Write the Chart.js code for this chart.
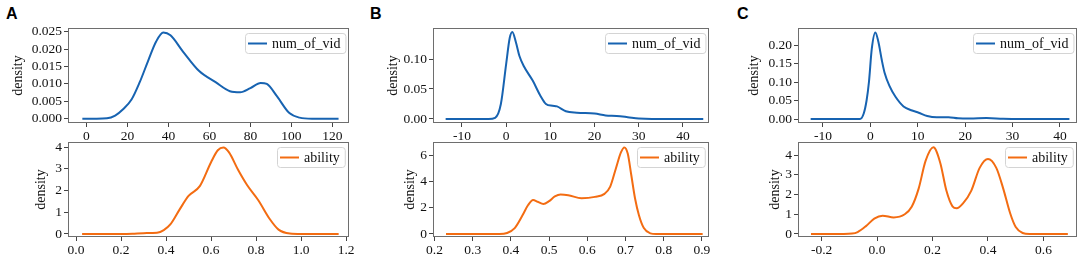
<!DOCTYPE html>
<html lang="en">
<head>
<meta charset="UTF-8">
<title>Density of num_of_vid and ability</title>
<script src="https://cdn.jsdelivr.net/npm/chart.js@4.4.0/dist/chart.umd.min.js"></script>
<style>
    body {
        margin: 0;
        background: #fff;
        width: 1084px;
        height: 257px;
        position: relative;
        overflow: hidden;
    }
    .wrap { position: absolute; }
    .tag {
        position: absolute;
        top: 6px;
        font: bold 16px "Liberation Sans", Arial, sans-serif;
        line-height: 16px;
        color: #000;
    }
</style>
</head>
<body>
<div class="tag" style="left:6px">A</div>
<div class="tag" style="left:370px">B</div>
<div class="tag" style="left:737px">C</div>

<div class="wrap" id="wAtop"><canvas id="aTop"></canvas></div>
<div class="wrap" id="wAbot"><canvas id="aBot"></canvas></div>
<div class="wrap" id="wBtop"><canvas id="bTop"></canvas></div>
<div class="wrap" id="wBbot"><canvas id="bBot"></canvas></div>
<div class="wrap" id="wCtop"><canvas id="cTop"></canvas></div>
<div class="wrap" id="wCbot"><canvas id="cBot"></canvas></div>

<script>
// ---- panel A ----
const aVidX = [-2, 5, 10, 14, 18, 22, 26, 30, 34, 37.5, 41, 47, 55, 63, 70, 75, 80, 85, 88, 93, 99, 104, 110, 123];
const aVidY = [0, 0, 0.0001, 0.0009, 0.0028, 0.0055, 0.0105, 0.0165, 0.0222, 0.0248, 0.024, 0.0194, 0.0137, 0.0105, 0.0079, 0.0076, 0.0088, 0.0103, 0.0100, 0.0064, 0.0016, 0.0003, 0, 0];
const aAbX = [0.027, 0.2, 0.25, 0.3, 0.36, 0.39, 0.42, 0.46, 0.5, 0.55, 0.6, 0.63, 0.655, 0.68, 0.72, 0.76, 0.81, 0.86, 0.9, 0.95, 1.0, 1.167];
const aAbY = [0, 0, 0.01, 0.04, 0.06, 0.18, 0.45, 1.12, 1.75, 2.2, 3.3, 3.85, 3.98, 3.75, 2.95, 2.25, 1.55, 0.7, 0.2, 0.02, 0, 0];

// ---- panel B ----
const bVidX = [-13.7, -4, -2.5, -1.2, 0, 0.8, 1.4, 2.2, 3, 4, 6, 7.8, 9, 10.5, 11.5, 13.5, 16, 20, 22.5, 25, 27.5, 30, 33, 44.6];
const bVidY = [0, 0, 0.002, 0.025, 0.092, 0.135, 0.145, 0.128, 0.105, 0.088, 0.064, 0.038, 0.025, 0.022, 0.021, 0.013, 0.0105, 0.009, 0.006, 0.005, 0.003, 0.0008, 0, 0];
const bAbX = [0.23, 0.37, 0.39, 0.41, 0.43, 0.445, 0.458, 0.47, 0.485, 0.5, 0.515, 0.53, 0.55, 0.585, 0.62, 0.645, 0.66, 0.675, 0.688, 0.697, 0.706, 0.715, 0.725, 0.735, 0.748, 0.765, 0.78, 0.902];
const bAbY = [0, 0, 0.08, 0.45, 1.4, 2.2, 2.58, 2.45, 2.28, 2.5, 2.85, 3.0, 2.95, 2.72, 2.82, 3.05, 3.6, 5.0, 6.2, 6.58, 6.1, 4.5, 2.7, 1.45, 0.45, 0.05, 0, 0];

// ---- panel C ----
const cVidX = [-12.6, -2.2, -1.4, -0.8, -0.3, 0.3, 1.05, 1.7, 2.4, 3, 4, 5.3, 7, 8.8, 10.2, 12, 14, 16.5, 18.5, 21, 24.5, 28, 32, 42];
const cVidY = [0, 0, 0.015, 0.05, 0.1, 0.19, 0.234, 0.208, 0.16, 0.125, 0.09, 0.06, 0.034, 0.023, 0.017, 0.008, 0.0045, 0.005, 0.002, 0.0015, 0.0025, 0.001, 0.0003, 0];
const cAbX = [-0.238, -0.12, -0.09, -0.07, -0.04, -0.01, 0.02, 0.06, 0.1, 0.125, 0.15, 0.175, 0.203, 0.228, 0.25, 0.272, 0.287, 0.31, 0.34, 0.37, 0.4, 0.43, 0.455, 0.48, 0.5, 0.525, 0.55, 0.688];
const cAbY = [0, 0, 0.02, 0.1, 0.4, 0.78, 0.93, 0.84, 1.0, 1.38, 2.3, 3.7, 4.39, 3.6, 2.2, 1.4, 1.3, 1.55, 2.2, 3.35, 3.8, 3.35, 2.3, 1.05, 0.35, 0.05, 0, 0];

// tick values
const aVidTicksX = [0, 20, 40, 60, 80, 100, 120];
const aVidTicksY = [0, 0.005, 0.01, 0.015, 0.02, 0.025];
const aAbTicksX = [0, 0.2, 0.4, 0.6, 0.8, 1.0, 1.2];
const aAbTicksY = [0, 1, 2, 3, 4];
const bVidTicksX = [-10, 0, 10, 20, 30, 40];
const bVidTicksY = [0, 0.05, 0.1];
const bAbTicksX = [0.2, 0.3, 0.4, 0.5, 0.6, 0.7, 0.8, 0.9];
const bAbTicksY = [0, 2, 4, 6];
const cVidTicksX = [-10, 0, 10, 20, 30, 40];
const cVidTicksY = [0, 0.05, 0.1, 0.15, 0.2];
const cAbTicksX = [-0.2, 0, 0.2, 0.4, 0.6];
const cAbTicksY = [0, 1, 2, 3, 4];

const BLUE = '#1763b1';
const ORANGE = '#f36c12';
const serif = '"Liberation Serif", "Times New Roman", serif';

const framePlugin = {
    id: 'frame',
    afterDatasetsDraw(chart) {
        const { ctx, chartArea: a } = chart;
        ctx.save();
        ctx.strokeStyle = '#6e6e6e';
        ctx.lineWidth = 1;
        ctx.strokeRect(Math.round(a.left) + 0.5, Math.round(a.top) + 0.5,
            Math.round(a.right - a.left) - 1, Math.round(a.bottom - a.top) - 1);
        ctx.restore();
    }
};

// matplotlib-style legend in the upper right corner
const legendPlugin = {
    id: 'insideLegend',
    afterDraw(chart) {
        const { ctx, chartArea: a } = chart;
        const ds = chart.data.datasets[0];
        ctx.save();
        ctx.font = '14px ' + serif;
        const tw = ctx.measureText(ds.label).width;
        const w = 4 + 19 + 5 + tw + 4, h = 20;
        const x = Math.round(a.right - 4 - w), y = Math.round(a.top + 5);
        ctx.beginPath();
        ctx.roundRect(x + 0.5, y + 0.5, w, h, 3);
        ctx.fillStyle = 'rgba(255,255,255,0.85)';
        ctx.fill();
        ctx.strokeStyle = '#d4d4d4';
        ctx.lineWidth = 1;
        ctx.stroke();
        ctx.beginPath();
        ctx.moveTo(x + 3, y + h / 2 + 0.5);
        ctx.lineTo(x + 22, y + h / 2 + 0.5);
        ctx.strokeStyle = ds.borderColor;
        ctx.lineWidth = 2;
        ctx.stroke();
        ctx.fillStyle = '#111';
        ctx.textBaseline = 'middle';
        ctx.fillText(ds.label, x + 27, y + h / 2 + 1);
        ctx.restore();
    }
};

function densityChart(id, cv, plot, o) {
    const el = document.getElementById(id);
    const wrap = el.parentNode;
    wrap.style.left = cv.l + 'px';
    wrap.style.top = cv.t + 'px';
    el.width = cv.r - cv.l;
    el.height = cv.b - cv.t;
    const tickFont = { family: serif, size: 13.5 };
    new Chart(el, {
        type: 'line',
        data: {
            datasets: [{
                label: o.label,
                data: o.xs.map((x, i) => ({ x: x, y: o.ys[i] })),
                borderColor: o.color,
                borderWidth: 2,
                pointRadius: 0,
                cubicInterpolationMode: 'monotone',
                fill: false
            }]
        },
        options: {
            responsive: false,
            animation: false,
            layout: { padding: { top: plot.t - cv.t, right: cv.r - plot.r, left: 0, bottom: 0 } },
            plugins: { legend: { display: false }, tooltip: { enabled: false } },
            scales: {
                x: {
                    type: 'linear',
                    min: o.xMin,
                    max: o.xMax,
                    afterFit: s => { s.height = cv.b - plot.b; },
                    afterBuildTicks: s => { s.ticks = o.xTicks.map(v => ({ value: v })); },
                    ticks: {
                        font: tickFont, color: '#111', padding: 1,
                        maxRotation: 0, autoSkip: false,
                        callback: v => v.toFixed(o.xDec)
                    },
                    grid: { drawOnChartArea: false, tickLength: 4, color: '#444' },
                    border: { display: false }
                },
                y: {
                    type: 'linear',
                    min: o.yMin,
                    max: o.yMax,
                    afterFit: s => { s.width = plot.l - cv.l; },
                    afterBuildTicks: s => { s.ticks = o.yTicks.map(v => ({ value: v })); },
                    ticks: {
                        font: tickFont, color: '#111', padding: 2,
                        autoSkip: false,
                        callback: v => v.toFixed(o.yDec)
                    },
                    grid: { drawOnChartArea: false, tickLength: 4, color: '#444' },
                    border: { display: false },
                    title: {
                        display: true, text: 'density', color: '#111',
                        font: { family: serif, size: 14 },
                        padding: { top: o.titleX - cv.l - 8.4, bottom: 0 }
                    }
                }
            }
        },
        plugins: [framePlugin, legendPlugin]
    });
}

const topCv = { t: 12, b: 147 }, botCv = { t: 126, b: 257 };
const topPlot = { t: 28, b: 123 }, botPlot = { t: 142, b: 237 };

densityChart('aTop', { l: 0, r: 362, ...topCv }, { l: 68, r: 349, ...topPlot }, {
    label: 'num_of_vid', color: BLUE, xs: aVidX, ys: aVidY,
    xMin: -9, xMax: 128.1, yMin: -0.00125, yMax: 0.0261,
    xTicks: aVidTicksX, yTicks: aVidTicksY, xDec: 0, yDec: 3, titleX: 18
});
densityChart('aBot', { l: 0, r: 362, ...botCv }, { l: 68, r: 349, ...botPlot }, {
    label: 'ability', color: ORANGE, xs: aAbX, ys: aAbY,
    xMin: -0.0356, xMax: 1.213, yMin: -0.138, yMax: 4.23,
    xTicks: aAbTicksX, yTicks: aAbTicksY, xDec: 1, yDec: 0, titleX: 41
});
densityChart('bTop', { l: 362, r: 722, ...topCv }, { l: 433, r: 709, ...topPlot }, {
    label: 'num_of_vid', color: BLUE, xs: bVidX, ys: bVidY,
    xMin: -16.56, xMax: 45.9, yMin: -0.0067, yMax: 0.1517,
    xTicks: bVidTicksX, yTicks: bVidTicksY, xDec: 0, yDec: 2, titleX: 393
});
densityChart('bBot', { l: 362, r: 722, ...botCv }, { l: 433, r: 709, ...botPlot }, {
    label: 'ability', color: ORANGE, xs: bAbX, ys: bAbY,
    xMin: 0.196, xMax: 0.9186, yMin: -0.228, yMax: 6.99,
    xTicks: bAbTicksX, yTicks: bAbTicksY, xDec: 1, yDec: 0, titleX: 410
});
densityChart('cTop', { l: 722, r: 1084, ...topCv }, { l: 798, r: 1077, ...topPlot }, {
    label: 'num_of_vid', color: BLUE, xs: cVidX, ys: cVidY,
    xMin: -15.27, xMax: 43.6, yMin: -0.0108, yMax: 0.246,
    xTicks: cVidTicksX, yTicks: cVidTicksY, xDec: 0, yDec: 2, titleX: 754
});
densityChart('cBot', { l: 722, r: 1084, ...botCv }, { l: 798, r: 1077, ...botPlot }, {
    label: 'ability', color: ORANGE, xs: cAbX, ys: cAbY,
    xMin: -0.285, xMax: 0.721, yMin: -0.152, yMax: 4.66,
    xTicks: cAbTicksX, yTicks: cAbTicksY, xDec: 1, yDec: 0, titleX: 775
});
</script>
</body>
</html>
